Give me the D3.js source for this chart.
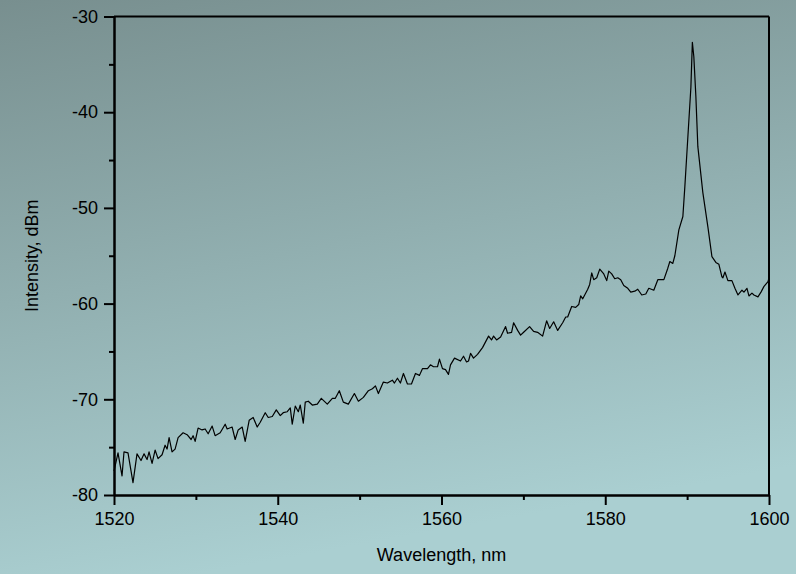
<!DOCTYPE html>
<html>
<head>
<meta charset="utf-8">
<script src="https://cdn.jsdelivr.net/npm/d3@7"></script>
<style>
  html, body { margin: 0; padding: 0; }
  body { width: 796px; height: 574px; overflow: hidden; }
  svg { display: block; font-family: "Liberation Sans", Arial, sans-serif; }
</style>
</head>
<body>
<svg id="chart" width="796" height="574"></svg>
<script>
// spectrum (nm, dBm)
const wavelength = [
  1520.00, 1520.49, 1520.98, 1521.22, 1521.71, 1522.32, 1522.81, 1523.30, 1523.67, 1524.04,
  1524.28, 1524.65, 1525.02, 1525.38, 1525.87, 1526.24, 1526.48, 1526.73, 1527.09, 1527.46,
  1527.83, 1528.44, 1528.93, 1529.42, 1529.66, 1529.91, 1530.27, 1530.76, 1531.13, 1531.50,
  1531.99, 1532.35, 1532.97, 1533.58, 1533.82, 1534.43, 1534.80, 1535.17, 1535.66, 1536.02,
  1536.51, 1537.00, 1537.49, 1537.86, 1538.47, 1538.84, 1539.33, 1539.82, 1540.31, 1540.67,
  1541.16, 1541.53, 1541.77, 1542.14, 1542.51, 1542.75, 1543.12, 1543.36, 1543.73, 1544.22,
  1544.83, 1545.32, 1546.05, 1546.67, 1547.03, 1547.52, 1548.01, 1548.62, 1549.36, 1549.85,
  1550.46, 1551.07, 1551.56, 1551.93, 1552.29, 1552.90, 1553.39, 1554.00, 1554.25, 1554.62,
  1554.98, 1555.35, 1555.84, 1556.33, 1556.82, 1557.31, 1557.67, 1558.29, 1558.65, 1559.02,
  1559.51, 1559.75, 1560.12, 1560.49, 1560.85, 1561.10, 1561.59, 1562.32, 1562.69, 1563.06,
  1563.30, 1563.55, 1563.91, 1564.40, 1565.01, 1565.75, 1566.11, 1566.36, 1566.73, 1567.22,
  1567.83, 1568.07, 1568.56, 1568.81, 1569.30, 1569.66, 1570.03, 1570.76, 1571.25, 1571.74,
  1572.35, 1572.84, 1573.21, 1573.70, 1574.19, 1574.80, 1575.17, 1575.41, 1575.90, 1576.39,
  1576.76, 1577.00, 1577.25, 1577.86, 1578.10, 1578.35, 1578.59, 1578.96, 1579.33, 1579.82,
  1580.18, 1580.43, 1580.79, 1581.16, 1581.53, 1581.89, 1582.26, 1582.75, 1583.12, 1583.61,
  1583.97, 1584.46, 1584.95, 1585.32, 1585.93, 1586.42, 1587.16, 1587.64, 1587.89, 1588.25,
  1588.50, 1588.99, 1589.48, 1589.72, 1590.09, 1590.46, 1590.64, 1590.82, 1591.07, 1591.31,
  1591.92, 1592.54, 1593.03, 1593.51, 1593.88, 1594.25, 1594.37, 1594.62, 1594.98, 1595.47,
  1595.84, 1596.21, 1596.70, 1596.94, 1597.31, 1597.55, 1597.92, 1598.16, 1598.65, 1599.02,
  1599.39, 1599.88, 1600.00
];
const intensity = [
  -77.5, -75.6, -78.0, -75.5, -75.6, -78.7, -75.7, -76.4, -75.7, -76.3,
  -75.5, -76.7, -75.3, -76.2, -75.8, -74.8, -75.2, -74.0, -75.5, -75.2,
  -74.0, -73.5, -73.7, -74.2, -73.8, -74.4, -73.0, -73.2, -73.1, -73.6,
  -72.8, -73.8, -73.5, -72.6, -73.1, -72.9, -74.2, -73.2, -72.9, -74.4,
  -72.2, -71.9, -72.9, -72.4, -71.4, -71.9, -71.8, -71.1, -71.7, -71.4,
  -71.3, -70.9, -72.6, -70.7, -71.3, -70.6, -72.5, -70.3, -70.2, -70.6,
  -70.5, -69.9, -70.5, -69.9, -69.9, -69.1, -70.3, -70.5, -69.4, -70.2,
  -69.8, -69.1, -68.9, -68.6, -69.4, -68.2, -68.3, -68.0, -68.3, -67.8,
  -68.3, -67.3, -68.4, -68.4, -67.3, -67.5, -66.8, -66.8, -66.4, -66.6,
  -66.6, -65.8, -66.8, -66.9, -67.4, -66.4, -65.7, -66.0, -65.5, -66.1,
  -66.0, -65.2, -65.7, -65.3, -64.6, -63.4, -63.8, -63.4, -63.8, -63.5,
  -62.4, -63.1, -63.0, -62.0, -62.8, -63.3, -63.0, -62.4, -62.9, -63.0,
  -63.4, -61.8, -62.6, -61.9, -62.8, -62.0, -61.4, -61.4, -60.3, -60.4,
  -60.1, -59.2, -59.5, -58.5, -58.0, -56.8, -57.5, -57.3, -56.4, -56.9,
  -57.6, -56.6, -56.9, -57.4, -57.3, -57.5, -58.1, -58.4, -58.8, -58.7,
  -58.5, -59.1, -59.0, -58.4, -58.6, -57.5, -57.5, -56.3, -55.6, -55.8,
  -55.0, -52.3, -50.9, -47.8, -42.6, -37.4, -32.7, -34.2, -38.4, -43.6,
  -48.4, -52.0, -55.1, -55.7, -55.9, -57.2, -57.3, -56.7, -57.6, -57.6,
  -58.4, -59.1, -58.6, -58.8, -58.4, -59.2, -58.9, -59.1, -59.3, -58.8,
  -58.2, -57.7, -57.3
];
const xTicks = [1520, 1540, 1560, 1580, 1600];
const xMinor = [1530, 1550, 1570, 1590];
const yTicks = [-30, -40, -50, -60, -70, -80];
const yMinor = [-35, -45, -55, -65, -75];

const W = 796, H = 574;
const m = { l: 114, t: 16.5, r: 769, b: 495 };
const svg = d3.select("#chart");

// background gradient
const defs = svg.append("defs");
const grad = defs.append("linearGradient")
  .attr("id", "bg").attr("x1", "0%").attr("y1", "0%").attr("x2", "25%").attr("y2", "100%");
grad.append("stop").attr("offset", "0%").attr("stop-color", "#788f8f");
grad.append("stop").attr("offset", "100%").attr("stop-color", "#aacfd1");
svg.append("rect").attr("width", W).attr("height", H).attr("fill", "url(#bg)");

const x = d3.scaleLinear().domain([1520, 1600]).range([m.l, m.r]);
const y = d3.scaleLinear().domain([-80, -30]).range([m.b, m.t]);

const data = wavelength.map((w, i) => ({ w, v: intensity[i] }));

// spectrum
svg.append("path")
  .datum(data)
  .attr("fill", "none")
  .attr("stroke", "#000")
  .attr("stroke-width", 1.2)
  .attr("stroke-linejoin", "round")
  .attr("d", d3.line().x(d => x(d.w)).y(d => y(d.v)));

// frame (top and right)
svg.append("line").attr("x1", m.l).attr("x2", m.r).attr("y1", m.t).attr("y2", m.t)
  .attr("stroke", "#000").attr("stroke-width", 2);
svg.append("line").attr("x1", m.r).attr("x2", m.r).attr("y1", m.t).attr("y2", m.b)
  .attr("stroke", "#000").attr("stroke-width", 2);

function styleAxis(g) {
  g.select(".domain").attr("stroke", "#000").attr("stroke-width", 2);
  g.selectAll(".tick line").attr("stroke", "#000").attr("stroke-width", 2);
  g.selectAll(".tick text").attr("fill", "#000").attr("font-size", 18)
    .attr("font-family", "Liberation Sans, Arial, sans-serif");
}

// minor ticks
svg.append("g").attr("transform", `translate(0,${m.b})`)
  .call(d3.axisBottom(x).tickValues(xMinor).tickSize(5).tickFormat("").tickSizeOuter(0))
  .call(styleAxis);
svg.append("g").attr("transform", `translate(${m.l},0)`)
  .call(d3.axisLeft(y).tickValues(yMinor).tickSize(5).tickFormat("").tickSizeOuter(0))
  .call(styleAxis);

// major ticks
svg.append("g").attr("transform", `translate(0,${m.b})`)
  .call(d3.axisBottom(x).tickValues(xTicks).tickSize(10).tickPadding(7).tickSizeOuter(0).tickFormat(d3.format("d")))
  .call(styleAxis);
svg.append("g").attr("transform", `translate(${m.l},0)`)
  .call(d3.axisLeft(y).tickValues(yTicks).tickSize(10).tickPadding(6).tickSizeOuter(0).tickFormat(d => d3.format("d")(d).replace("\u2212", "-")))
  .call(styleAxis);

// axis titles
svg.append("text")
  .attr("x", (m.l + m.r) / 2).attr("y", 561)
  .attr("text-anchor", "middle").attr("font-size", 18).attr("fill", "#000")
  .text("Wavelength, nm");
svg.append("text")
  .attr("transform", `translate(38,${(m.t + m.b) / 2}) rotate(-90)`)
  .attr("text-anchor", "middle").attr("font-size", 18).attr("fill", "#000")
  .text("Intensity, dBm");
</script>
</body>
</html>
